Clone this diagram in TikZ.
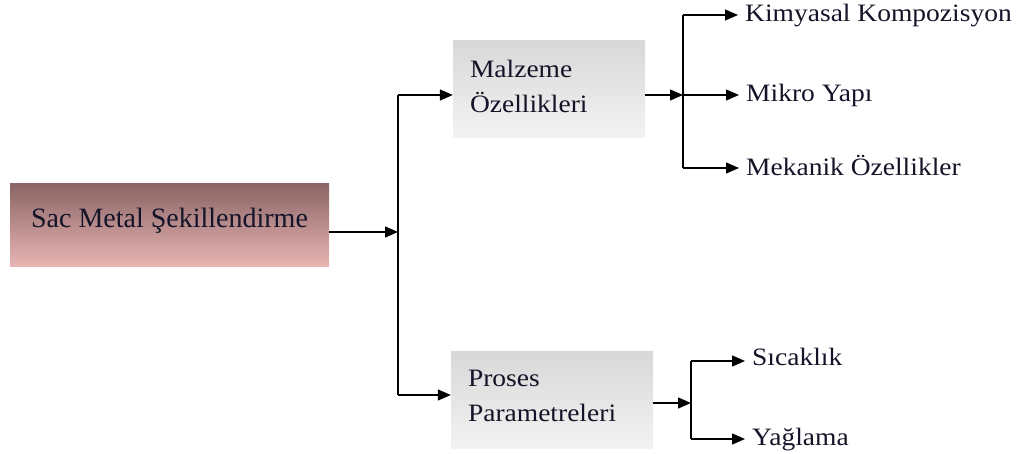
\documentclass[tikz,border=0pt]{standalone}
\usepackage{fontspec}
\setmainfont{Liberation Serif}
\newfontfamily\lblfont[FakeStretch=1.1]{Liberation Serif}
\usetikzlibrary{arrows.meta}
\definecolor{mainTop}{HTML}{8B6565}
\definecolor{mainBot}{HTML}{E9B5B5}
\definecolor{boxTop}{HTML}{D8D8D8}
\definecolor{boxBot}{HTML}{F3F3F3}
\definecolor{ink}{HTML}{141428}
\begin{document}
\begin{tikzpicture}[x=1pt,y=-1pt,
  conn/.style={line width=1.3pt},
  arr/.style={line width=1.3pt,-{Triangle[length=13pt,width=11pt]}},
  mainbox/.style={minimum width=319pt,minimum height=83pt,inner sep=0pt,
    top color=mainTop,bottom color=mainBot,text=ink,
    font=\fontsize{28}{34}\selectfont,text height=20pt,text depth=15pt},
  graybox/.style={inner xsep=17pt,inner ysep=0pt,minimum height=97pt,
    top color=boxTop,bottom color=boxBot,text=ink,align=left,
    font=\lblfont\fontsize{25}{35}\selectfont,text height=17pt},
  lbl/.style={anchor=base west,inner xsep=7pt,inner ysep=0pt,text=ink,
    font=\lblfont\fontsize{25}{30}\selectfont},
]
\useasboundingbox (0,0) rectangle (1029,454);

\node[mainbox] (sac) at (169.5,225.5) {Sac Metal Şekillendirme};
\node[graybox,text width=158pt,text depth=40pt] (malz) at (549,89.5) {Malzeme\\Özellikleri};
\node[graybox,text width=168pt,text depth=44pt] (pros) at (552,400.5) {Proses\\Parametreleri};

\coordinate (j1) at (398,232);
\coordinate (j1t) at (398,95);
\coordinate (j1b) at (398,395);
\draw[arr] (sac.east |- j1) -- (j1);
\draw[conn] (j1t) -- (j1b);
\draw[arr] (j1t) -- (j1t -| malz.west);
\draw[arr] (j1b) -- (j1b -| pros.west);

\node[lbl] (kim) at (738,22) {Kimyasal Kompozisyon};
\node[lbl] (mik) at (739,102) {Mikro Yapı};
\node[lbl] (mek) at (739,176) {Mekanik Özellikler};
\coordinate (j2) at (683,95);
\coordinate (j2t) at (683,15);
\coordinate (j2b) at (683,168);
\draw[arr] (malz.east |- j2) -- (j2);
\draw[conn] (j2t) -- (j2b);
\draw[arr] (j2t) -- (j2t -| kim.west);
\draw[arr] (j2) -- (j2 -| mik.west);
\draw[arr] (j2b) -- (j2b -| mek.west);

\node[lbl] (sic) at (745,366) {Sıcaklık};
\node[lbl] (yag) at (745,446) {Yağlama};
\coordinate (j3) at (691,403);
\coordinate (j3t) at (691,361);
\coordinate (j3b) at (691,439);
\draw[arr] (pros.east |- j3) -- (j3);
\draw[conn] (j3t) -- (j3b);
\draw[arr] (j3t) -- (j3t -| sic.west);
\draw[arr] (j3b) -- (j3b -| yag.west);
\end{tikzpicture}
\end{document}
